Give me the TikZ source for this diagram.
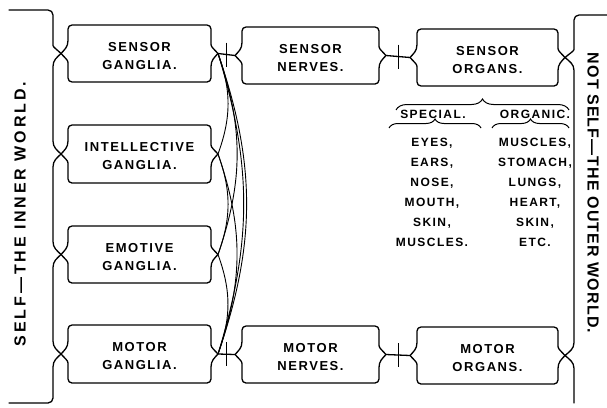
\documentclass[tikz,border=0pt]{standalone}
\usepackage{fontspec}
\setmainfont{Liberation Sans}
\newfontfamily\lblfont[LetterSpace=12]{Liberation Sans}
\newfontfamily\leftlblfont[LetterSpace=18]{Liberation Sans}
\newfontfamily\rightlblfont[LetterSpace=7]{Liberation Sans}
\usetikzlibrary{decorations.pathreplacing}
\tikzset{
  boxline/.style={line width=1.3pt, line cap=round, line join=round},
  thinline/.style={line width=0.9pt},
  boxtext/.style={font=\lblfont\bfseries\fontsize{13}{18}\selectfont, align=center, inner sep=0pt},
  listtext/.style={font=\lblfont\bfseries\fontsize{12}{14}\selectfont, inner sep=0pt, text height=8.6pt, text depth=0pt},
  bracedeco/.style={line width=1pt, decorate, decoration={brace, amplitude=#1}},
}
% #1 name, #2 L, #3 T, #4 R, #5 B, #6 text
\newcommand\bracebox[6]{%
  \pgfmathsetmacro\bL{#2}\pgfmathsetmacro\bT{#3}%
  \pgfmathsetmacro\bR{#4}\pgfmathsetmacro\bB{#5}%
  \pgfmathsetmacro\bM{(#3+#5)/2}%
  \draw[boxline]
    [rounded corners=4pt] (\bL,\bM-13) -- (\bL,\bT) -- (\bR,\bT) -- (\bR,\bM-13)
    [sharp corners] .. controls (\bR,\bM-6.5) and (\bR+3.5,\bM-3.9) .. (\bR+7,\bM)
                    .. controls (\bR+3.5,\bM+3.9) and (\bR,\bM+6.5) .. (\bR,\bM+13)
    [rounded corners=4pt] -- (\bR,\bB) -- (\bL,\bB) -- (\bL,\bM+13)
    [sharp corners] .. controls (\bL,\bM+6.5) and (\bL-3.5,\bM+3.9) .. (\bL-7,\bM)
                    .. controls (\bL-3.5,\bM-3.9) and (\bL,\bM-6.5) .. (\bL,\bM-13);
  \coordinate (#1-l) at (\bL-7,\bM);
  \coordinate (#1-r) at (\bR+7,\bM);
  \node[boxtext] (#1) at ({(\bL+\bR)/2},\bM+2.5) {#6};
}
\begin{document}
\begin{tikzpicture}[x=1pt, y=-1pt]
\useasboundingbox (0,0) rectangle (607,407);
\fill[white] (0,0) rectangle (607,407);

% left column
\bracebox{sg}{68}{25}{211}{82}{SENSOR\\GANGLIA.}
\bracebox{ig}{68}{125}{211}{183}{INTELLECTIVE\\GANGLIA.}
\bracebox{eg}{68}{226}{211}{283}{EMOTIVE\\GANGLIA.}
\bracebox{mg}{68}{325}{211}{383}{MOTOR\\GANGLIA.}
% middle column
\bracebox{sn}{242}{27}{379}{84}{SENSOR\\NERVES.}
\bracebox{mn}{242}{326}{379}{383}{MOTOR\\NERVES.}
% right column
\bracebox{so}{417}{29}{558}{86}{SENSOR\\ORGANS.}
\bracebox{mo}{417}{327}{558}{384}{MOTOR\\ORGANS.}

% left bracket (self)
\draw[boxline]
  [rounded corners=5pt] (9,10) -- (53,10) -- (53,40.5)
  [sharp corners] .. controls (53,47) and (57,49.6) .. (61,53.5)
                  .. controls (57,57.4) and (53,60) .. (53,66.5)
  -- (53,141)
  .. controls (53,147.5) and (57,150.1) .. (61,154)
  .. controls (57,157.9) and (53,160.5) .. (53,167)
  -- (53,241.5)
  .. controls (53,248) and (57,250.6) .. (61,254.5)
  .. controls (57,258.4) and (53,261) .. (53,267.5)
  -- (53,341)
  .. controls (53,347.5) and (57,350.1) .. (61,354)
  .. controls (57,357.9) and (53,360.5) .. (53,367)
  [rounded corners=5pt] -- (53,403) -- (9,403);

% right bracket (not self)
\draw[boxline]
  [rounded corners=5pt] (607,15) -- (574,15) -- (574,44.5)
  [sharp corners] .. controls (574,51) and (569.5,53.6) .. (565,57.5)
                  .. controls (569.5,61.4) and (574,64) .. (574,70.5)
  -- (574,342.5)
  .. controls (574,349) and (569.5,351.6) .. (565,355.5)
  .. controls (569.5,359.4) and (574,362) .. (574,368.5)
  -- (574,403);

% horizontal connectors with crosses
\draw[boxline] (sg-r) -- (sn-l) coordinate[pos=0.5] (x1);
\draw[boxline] (sn-r) -- (so-l) coordinate[pos=0.5] (x2);
\draw[boxline] (mg-r) -- (mn-l) coordinate[pos=0.5] (x3);
\draw[boxline] (mn-r) -- (mo-l) coordinate[pos=0.5] (x4);
\foreach \c in {x1,x2,x3,x4}
  \draw[thinline] ([yshift=12pt]\c) -- ([yshift=-12pt]\c);

% ganglia interconnections
\draw[thinline] (sg-r) to[bend left=20] (ig-r);
\draw[thinline] (sg-r) to[bend left=19] (eg-r);
\draw[thinline] (sg-r) to[bend left=17] (mg-r);
\draw[thinline] (sg-r) to[bend left=19] (mg-r);
\draw[thinline] (ig-r) to[bend left=20] (eg-r);
\draw[thinline] (ig-r) to[bend left=19] (mg-r);
\draw[thinline] (eg-r) to[bend left=20] (mg-r);

% classification braces
\coordinate (bb1) at (396,110);
\coordinate (bb2) at (569,110);
\draw[bracedeco=11pt] (bb1) -- (bb2);
\node[listtext] (spec) at (433,114) {SPECIAL.};
\node[listtext] (orga) at (535,114) {ORGANIC.};
\coordinate (sb1) at (389,128);
\coordinate (sb2) at (481,128);
\coordinate (ob1) at (492,128);
\coordinate (ob2) at (569,128);
\draw[bracedeco=9pt] (sb1) -- (sb2);
\draw[bracedeco=9pt] (ob1) -- (ob2);

% lists
\node[listtext] (s1) at (432,142) {EYES,};
\node[listtext] (s2) at (432,162) {EARS,};
\node[listtext] (s3) at (432,182) {NOSE,};
\node[listtext] (s4) at (432,202) {MOUTH,};
\node[listtext] (s5) at (432,222) {SKIN,};
\node[listtext] (s6) at (432,242) {MUSCLES.};
\node[listtext] (o1) at (535,142) {MUSCLES,};
\node[listtext] (o2) at (535,162) {STOMACH,};
\node[listtext] (o3) at (535,182) {LUNGS,};
\node[listtext] (o4) at (535,202) {HEART,};
\node[listtext] (o5) at (535,222) {SKIN,};
\node[listtext] (o6) at (535,242) {ETC.};

% side titles
\node[rotate=90, inner sep=0pt, font=\leftlblfont\bfseries\fontsize{16}{18}\selectfont] (self) at (20,214) {SELF—THE INNER WORLD.};
\node[rotate=-90, inner sep=0pt, font=\rightlblfont\bfseries\fontsize{16}{18}\selectfont] (notself) at (593,193) {NOT SELF—THE OUTER WORLD.};
\end{tikzpicture}
\end{document}
